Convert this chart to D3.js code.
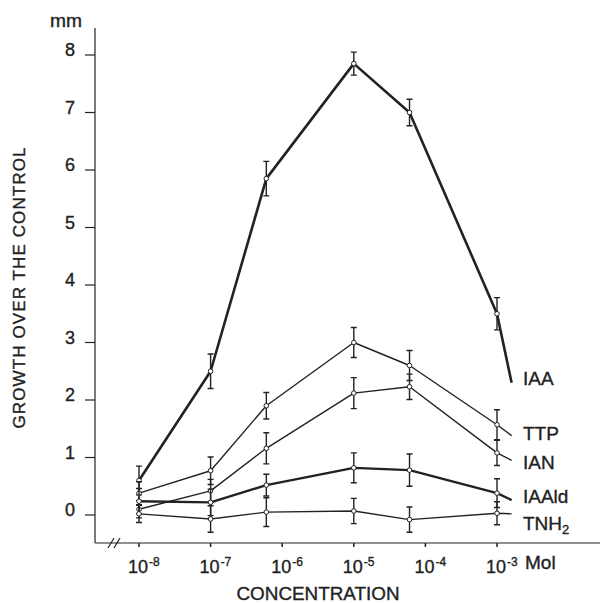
<!DOCTYPE html>
<html>
<head>
<meta charset="utf-8">
<script src="https://cdn.jsdelivr.net/npm/d3@7"></script>
<style>
  body { margin: 0; background: #fff; }
  svg { display: block; font-family: "Liberation Sans", Arial, sans-serif; }
  svg text { stroke: #222; stroke-width: 0.35px; }
</style>
</head>
<body>
<svg width="602" height="603"></svg>
<script>
const svg = d3.select("svg");

// concentrations (Mol) where the measurements were taken
const concentrations = [1e-8, 1e-7, 6e-7, 1e-5, 6e-5, 1e-3];
// the lines run on a little past the last point, toward their labels
const tailConcentration = 1.6e-3;

const seriesNames = ["IAA", "TTP", "IAN", "IAAld", "TNH2"];

// growth over the control (mm)
const iaaValues   = [0.6, 2.5, 5.85, 7.85, 7.0, 3.5];
const ttpValues   = [0.38, 0.77, 1.9, 3.0, 2.6, 1.57];
const ianValues   = [0.1, 0.42, 1.16, 2.12, 2.23, 1.08];
const iaaldValues = [0.24, 0.22, 0.52, 0.82, 0.78, 0.38];
const tnh2Values  = [0.02, -0.07, 0.05, 0.07, -0.08, 0.03];

const tailValues = [2.3, 1.38, 0.95, 0.26, 0.02];

// error bar half-widths (mm)
const iaaErrors   = [0.25, 0.3, 0.3, 0.2, 0.23, 0.28];
const ttpErrors   = [0.2, 0.24, 0.23, 0.26, 0.26, 0.26];
const ianErrors   = [0.15, 0.2, 0.27, 0.27, 0.22, 0.22];
const iaaldErrors = [0.22, 0.23, 0.19, 0.26, 0.28, 0.25];
const tnh2Errors  = [0.15, 0.23, 0.25, 0.22, 0.22, 0.2];

const yTicks = [0, 1, 2, 3, 4, 5, 6, 7, 8];
const xTicks = [1e-8, 1e-7, 1e-6, 1e-5, 1e-4, 1e-3];

const allValues = [iaaValues, ttpValues, ianValues, iaaldValues, tnh2Values];
const allErrors = [iaaErrors, ttpErrors, ianErrors, iaaldErrors, tnh2Errors];

const ink = "#222";
const lineWidths = { IAA: 2.6, TTP: 1.4, IAN: 1.4, IAAld: 2.4, TNH2: 1.4 };
const labelY = { IAA: 385, TTP: 440, IAN: 469, IAAld: 503, TNH2: 530 };

const x = d3.scaleLog().domain([1e-8, 1e-3]).range([139, 497]);
const y = d3.scaleLinear().domain([0, 8]).range([515, 55]);

const axisX = 95;
const axisY = 543;

// y axis
svg.append("line")
    .attr("x1", axisX).attr("x2", axisX)
    .attr("y1", 28).attr("y2", axisY)
    .attr("stroke", ink).attr("stroke-width", 1.2);

svg.selectAll("line.ytick")
    .data(yTicks)
    .enter()
    .append("line")
    .attr("class", "ytick")
    .attr("x1", axisX - 10).attr("x2", axisX)
    .attr("y1", d => y(d)).attr("y2", d => y(d))
    .attr("stroke", ink).attr("stroke-width", 1.2);

svg.selectAll("text.ytick")
    .data(yTicks)
    .enter()
    .append("text")
    .attr("class", "ytick")
    .attr("x", 75)
    .attr("y", d => y(d) + 1)
    .attr("text-anchor", "end")
    .attr("font-size", 18)
    .attr("fill", ink)
    .text(d => d);

svg.append("text")
    .attr("x", 66).attr("y", 27)
    .attr("text-anchor", "middle")
    .attr("font-size", 18)
    .attr("textLength", 32)
    .attr("lengthAdjust", "spacingAndGlyphs")
    .attr("fill", ink)
    .text("mm");

svg.append("text")
    .attr("transform", "translate(25,288) rotate(-90)")
    .attr("text-anchor", "middle")
    .attr("font-size", 17)
    .attr("textLength", 281)
    .attr("lengthAdjust", "spacing")
    .attr("fill", ink)
    .text("GROWTH OVER THE CONTROL");

// x axis
svg.append("line")
    .attr("x1", axisX).attr("x2", 600)
    .attr("y1", axisY).attr("y2", axisY)
    .attr("stroke", ink).attr("stroke-width", 1.2);

// axis break
[111, 117].forEach(bx => {
    svg.append("line")
        .attr("x1", bx - 3).attr("x2", bx + 3)
        .attr("y1", axisY + 5).attr("y2", axisY - 5)
        .attr("stroke", ink).attr("stroke-width", 1.2);
});

svg.selectAll("line.xtick")
    .data(xTicks)
    .enter()
    .append("line")
    .attr("class", "xtick")
    .attr("x1", d => x(d)).attr("x2", d => x(d))
    .attr("y1", axisY).attr("y2", axisY + 4)
    .attr("stroke", ink).attr("stroke-width", 1.5);

const xLabels = svg.selectAll("text.xtick")
    .data(xTicks)
    .enter()
    .append("text")
    .attr("class", "xtick")
    .attr("x", d => x(d) - 11)
    .attr("y", 573)
    .attr("font-size", 18)
    .attr("fill", ink);
xLabels.append("tspan").text("10");
xLabels.append("tspan")
    .attr("font-size", 12)
    .attr("dy", -7)
    .attr("dx", 1)
    .text(d => "-" + Math.round(-Math.log10(d)));

svg.append("text")
    .attr("x", 525).attr("y", 569)
    .attr("font-size", 19)
    .attr("fill", ink)
    .text("Mol");

svg.append("text")
    .attr("x", 318).attr("y", 600)
    .attr("text-anchor", "middle")
    .attr("font-size", 18)
    .attr("textLength", 163)
    .attr("lengthAdjust", "spacingAndGlyphs")
    .attr("fill", ink)
    .text("CONCENTRATION");

// series
const line = d3.line().x(d => x(d.c)).y(d => y(d.v));

seriesNames.forEach((name, i) => {
    const pts = concentrations.map((c, j) => ({ c: c, v: allValues[i][j], e: allErrors[i][j] }));
    const g = svg.append("g");

    g.selectAll("path.err")
        .data(pts)
        .enter()
        .append("path")
        .attr("class", "err")
        .attr("d", d => {
            const px = x(d.c), top = y(d.v + d.e), bot = y(d.v - d.e);
            return `M${px},${top}V${bot}M${px - 3},${top}H${px + 3}M${px - 3},${bot}H${px + 3}`;
        })
        .attr("fill", "none")
        .attr("stroke", ink)
        .attr("stroke-width", 1.4);

    g.append("path")
        .datum(pts.concat([{ c: tailConcentration, v: tailValues[i] }]))
        .attr("d", line)
        .attr("fill", "none")
        .attr("stroke", ink)
        .attr("stroke-width", lineWidths[name])
        .attr("stroke-linejoin", "round");

    g.selectAll("circle")
        .data(pts)
        .enter()
        .append("circle")
        .attr("cx", d => x(d.c))
        .attr("cy", d => y(d.v))
        .attr("r", 2.3)
        .attr("fill", "#fff")
        .attr("stroke", ink)
        .attr("stroke-width", 1);

    const label = g.append("text")
        .attr("x", 523)
        .attr("y", labelY[name])
        .attr("font-size", 19)
        .attr("fill", ink);
    if (name === "TNH2") {
        label.append("tspan").text("TNH");
        label.append("tspan").attr("font-size", 13).attr("dy", 4).text("2");
    } else {
        label.text(name);
    }
});
</script>
</body>
</html>
